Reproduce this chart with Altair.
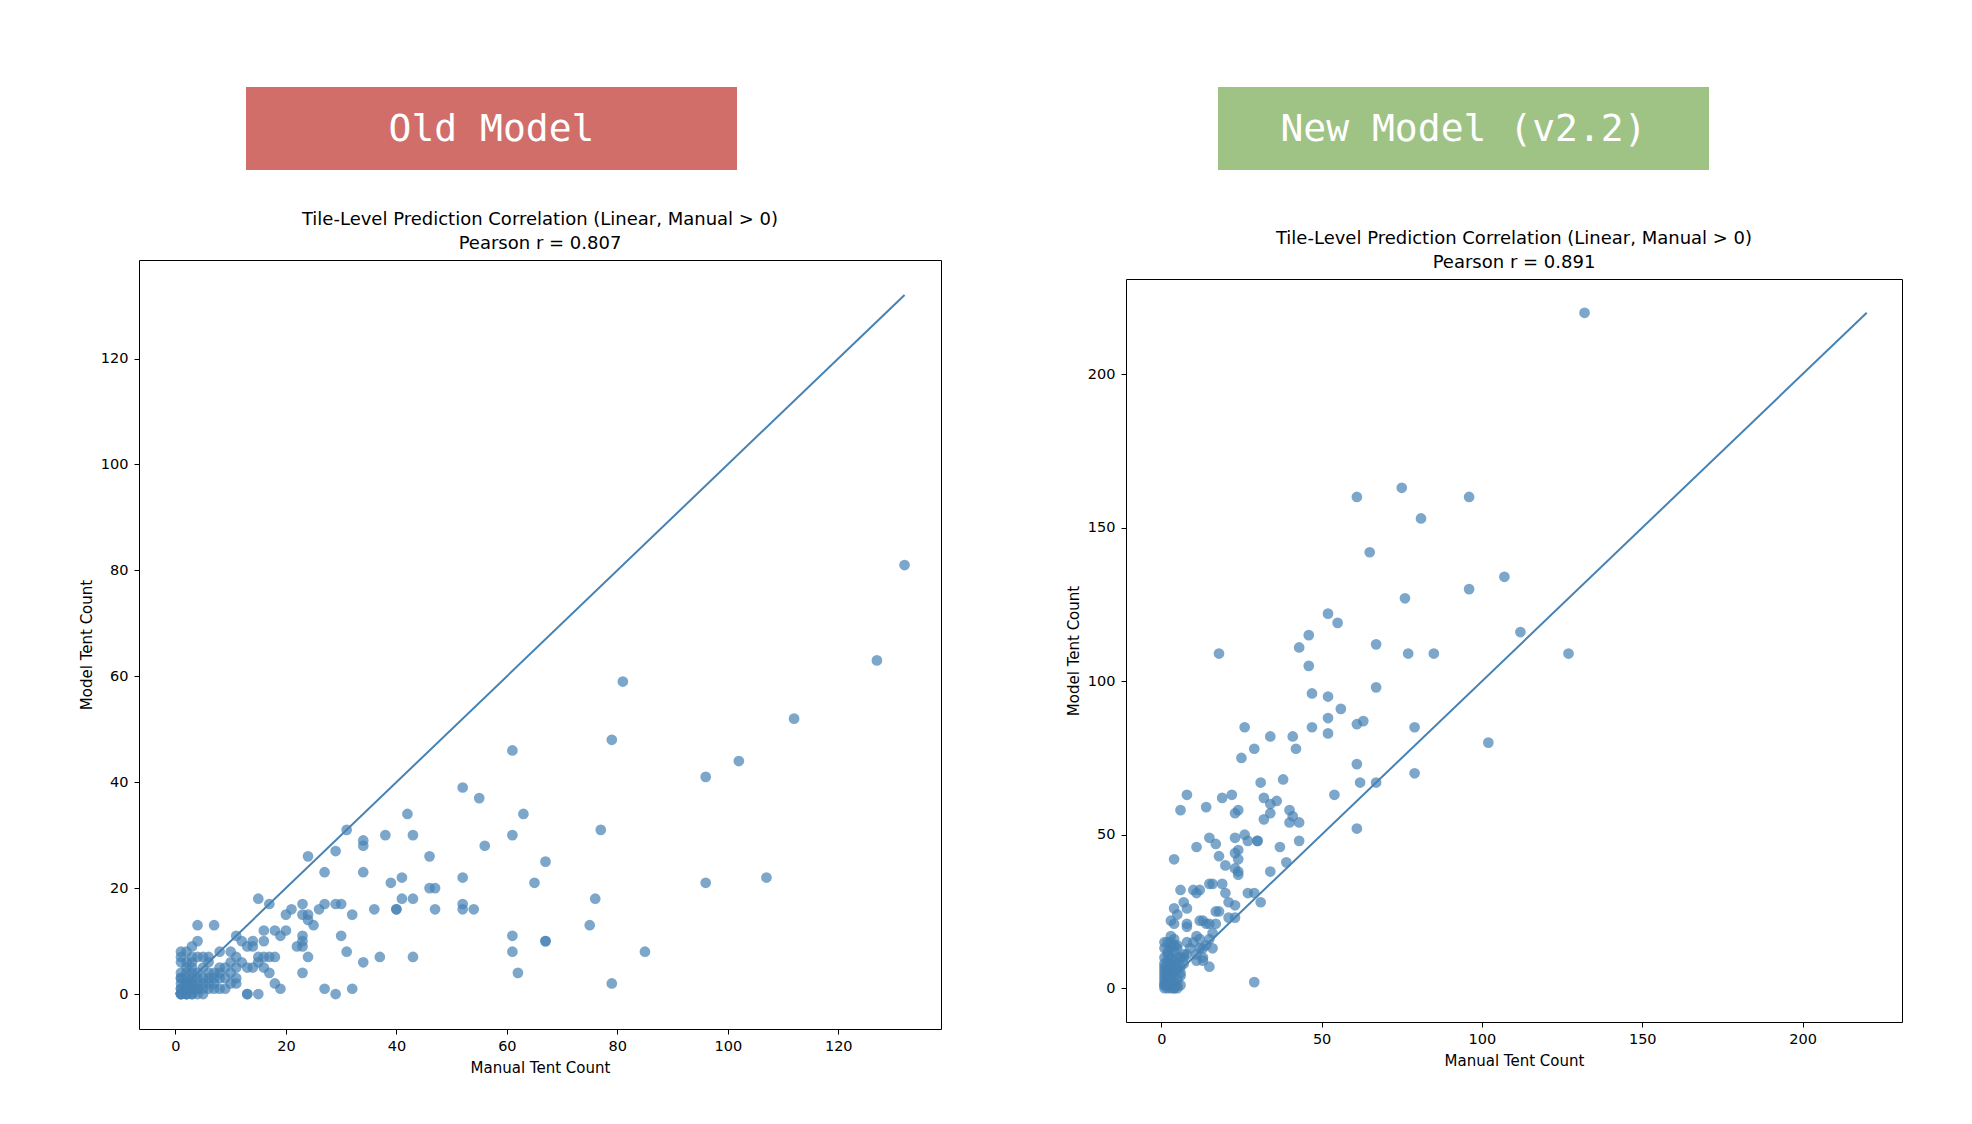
import altair as alt
import pandas as pd

# ---------------- data ----------------
old_manual = [132, 127, 81, 112, 79, 61, 102, 96, 52, 55, 42, 63, 31, 77, 38, 43, 61, 34, 34, 56,
              29, 24, 46, 67, 27, 34, 41, 52, 107, 39, 65, 96, 46, 47, 15, 41, 43, 76, 17, 23,
              27, 29, 30, 52, 21, 26, 36, 40, 40, 47, 52, 54, 20, 23, 24, 32, 24, 25, 75, 4,
              7, 16, 18, 20, 11, 19, 23, 30, 61, 12, 14, 16, 23, 4, 67, 67, 3, 13, 14, 22,
              23, 1, 2, 8, 10, 31, 61, 85, 1, 4, 5, 6, 11, 15, 16, 17, 18, 24, 37, 43,
              1, 10, 15, 34, 9, 11, 13, 14, 16, 4, 7, 8, 10, 17, 23, 62, 6, 11, 5, 11,
              18, 79, 7, 8, 19, 27, 32, 13, 13, 15, 29,
              1, 1, 1, 1, 1, 1, 1, 1, 1, 2, 2, 2, 2, 2, 2, 2, 2, 2, 2, 2,
              3, 3, 3, 3, 3, 3, 3, 3, 3, 4, 4, 4, 4, 5, 5, 6, 6, 5, 6, 7,
              8, 9, 7, 3, 2, 4, 5, 6, 8, 12, 9, 10, 2, 3]
old_model = [81, 63, 59, 52, 48, 46, 44, 41, 39, 37, 34, 34, 31, 31, 30, 30, 30, 29, 28, 28,
             27, 26, 26, 25, 23, 23, 22, 22, 22, 21, 21, 21, 20, 20, 18, 18, 18, 18, 17, 17,
             17, 17, 17, 17, 16, 16, 16, 16, 16, 16, 16, 16, 15, 15, 15, 15, 14, 13, 13, 13,
             13, 12, 12, 12, 11, 11, 11, 11, 11, 10, 10, 10, 10, 10, 10, 10, 9, 9, 9, 9,
             9, 8, 8, 8, 8, 8, 8, 8, 7, 7, 7, 7, 7, 7, 7, 7, 7, 7, 7, 7,
             6, 6, 6, 6, 5, 5, 5, 5, 5, 4, 4, 4, 4, 4, 4, 4, 3, 3, 2, 2,
             2, 2, 1, 1, 1, 1, 1, 0, 0, 0, 0,
             0, 0, 0, 1, 1, 2, 3, 3, 4, 0, 0, 0, 1, 1, 2, 2, 3, 4, 5, 6,
             0, 0, 1, 1, 2, 3, 4, 5, 6, 0, 1, 2, 3, 1, 0, 1, 2, 5, 6, 3,
             3, 3, 2, 2, 1, 1, 3, 4, 5, 6, 1, 2, 2, 7]

new_manual = [132, 75, 61, 96, 81, 65, 107, 96, 76, 52, 55, 46, 112, 43, 67, 18, 77, 85, 127, 46,
              47, 52, 67, 56, 52, 63, 61, 47, 79, 26, 34, 41, 52, 102, 29, 42, 25, 61, 79, 31,
              38, 62, 67, 8, 19, 22, 32, 36, 54, 14, 6, 24, 23, 34, 34, 40, 41, 32, 43, 40,
              61, 26, 15, 23, 27, 30, 30, 43, 17, 37, 11, 18, 23, 24, 4, 24, 20, 23, 39, 24,
              24, 34, 6, 10, 12, 11, 15, 16, 19, 20, 27, 29, 31, 21, 23, 4, 8, 7, 5, 3,
              4, 8, 8, 12, 13, 14, 15, 17, 18, 17, 21, 23, 16, 15, 16, 13, 11, 1, 3, 8,
              10, 12, 5, 5, 7, 8, 11, 13, 15, 29, 6, 6, 9, 14, 11, 13, 12,
              1, 1, 1, 1, 1, 1, 1, 1, 1, 2, 2, 2, 2, 2, 2, 2, 2, 3, 3, 3,
              3, 3, 3, 3, 3, 4, 4, 4, 4, 4, 4, 4, 5, 5, 5, 5, 5, 6, 6, 6,
              7, 7, 2, 1, 3, 4, 2, 1, 2, 3, 1, 4, 5]
new_model = [220, 163, 160, 160, 153, 142, 134, 130, 127, 122, 119, 115, 116, 111, 112, 109, 109, 109, 109, 105,
             96, 95, 98, 91, 88, 87, 86, 85, 85, 85, 82, 82, 83, 80, 78, 78, 75, 73, 70, 67,
             68, 67, 67, 63, 62, 63, 62, 61, 63, 59, 58, 58, 57, 60, 57, 58, 56, 55, 54, 54,
             52, 50, 49, 49, 48, 48, 48, 48, 47, 46, 46, 43, 44, 45, 42, 42, 40, 39, 41, 38,
             37, 38, 32, 32, 32, 31, 34, 34, 34, 31, 31, 31, 28, 28, 27, 26, 26, 28, 24, 22,
             21, 21, 20, 22, 22, 21, 21, 25, 25, 21, 23, 23, 18, 16, 13, 13, 17, 15, 15, 15,
             15, 16, 14, 13, 11, 11, 9, 9, 7, 2, 1, 4, 13, 14, 11, 10, 13,
             0, 1, 2, 3, 4, 5, 6, 8, 10, 0, 1, 2, 3, 5, 7, 9, 12, 0, 1, 3,
             4, 6, 8, 10, 13, 0, 2, 5, 7, 9, 12, 16, 1, 3, 6, 8, 10, 5, 7, 10,
             8, 10, 15, 13, 17, 14, 11, 7, 4, 2, 1, 0, 0]

old_title = ["Tile-Level Prediction Correlation (Linear, Manual > 0)", "Pearson r = 0.807"]
new_title = ["Tile-Level Prediction Correlation (Linear, Manual > 0)", "Pearson r = 0.891"]
old_ticks = [0, 20, 40, 60, 80, 100, 120]
new_ticks = [0, 50, 100, 150, 200]
headers = ["Old Model", "New Model (v2.2)"]

POINT = "#4682b4"
FONT = "DejaVu Sans"
HEADER_H = 83


def scatter(manual, model, ticks, title, width, height):
    n = min(len(manual), len(model))
    df = pd.DataFrame({"manual": manual[:n], "model": model[:n]})
    top = max(max(manual[:n]), max(model[:n]))
    pad = top * 0.05
    dom = [-pad, top + pad]
    line_df = pd.DataFrame({"manual": [0, top], "model": [0, top]})

    xenc = alt.X("manual:Q", scale=alt.Scale(domain=dom, nice=False, zero=False),
                 axis=alt.Axis(values=ticks, title="Manual Tent Count", format="d"))
    yenc = alt.Y("model:Q", scale=alt.Scale(domain=dom, nice=False, zero=False),
                 axis=alt.Axis(values=ticks, title="Model Tent Count", format="d"))

    pts = alt.Chart(df).mark_circle(size=115, opacity=0.7, color=POINT).encode(x=xenc, y=yenc)
    line = alt.Chart(line_df).mark_line(color=POINT, strokeWidth=2).encode(
        x="manual:Q", y="model:Q")

    tdf = pd.DataFrame({"line": title})
    ttl1 = alt.Chart(tdf.iloc[[0]]).mark_text(font=FONT, fontSize=18, color="black",
                                              align="center", baseline="middle").encode(
        x=alt.value(width / 2), y=alt.value(-40), text="line:N")
    ttl2 = alt.Chart(tdf.iloc[[1]]).mark_text(font=FONT, fontSize=18, color="black",
                                              align="center", baseline="middle").encode(
        x=alt.value(width / 2), y=alt.value(-16), text="line:N")
    return alt.layer(pts, line, ttl1, ttl2).properties(width=width, height=height)


def header_box(label, color, width, x0, x1):
    hdf = pd.DataFrame({"label": [label]})
    rect = alt.Chart(hdf).mark_rect(color=color).encode(
        x=alt.value(x0), x2=alt.value(x1), y=alt.value(0), y2=alt.value(HEADER_H))
    txt = alt.Chart(hdf).mark_text(font="DejaVu Sans Mono", fontSize=38, color="white",
                                   align="center", baseline="middle").encode(
        x=alt.value((x0 + x1) / 2), y=alt.value(HEADER_H / 2 + 1), text="label:N")
    return alt.layer(rect, txt).properties(
        width=width, height=HEADER_H,
        view=alt.ViewBackground(stroke="transparent"))


left = alt.vconcat(
    header_box(headers[0], "#d16e6a", 802, 107, 598),
    scatter(old_manual, old_model, old_ticks, old_title, 802, 769),
    spacing=39,
)
right = alt.vconcat(
    header_box(headers[1], "#9ec385", 776, 92, 583),
    scatter(new_manual, new_model, new_ticks, new_title, 776, 743),
    spacing=58,
)

chart = alt.hconcat(left, right, spacing=123).properties(
    padding={"left": 78, "top": 86, "right": 0, "bottom": 0}
).configure_view(stroke="black", strokeWidth=1).configure_axis(
    grid=False, domain=False, tickColor="black", tickSize=5, tickWidth=1,
    labelFont=FONT, labelFontSize=14.5, labelColor="black", labelPadding=5,
    titleFont=FONT, titleFontSize=15, titleFontWeight="normal", titleColor="black",
    titlePadding=8,
).configure_axisY(labelPadding=6, titlePadding=6)

chart.save("out.html", embed_options={"renderer": "svg", "actions": False})
